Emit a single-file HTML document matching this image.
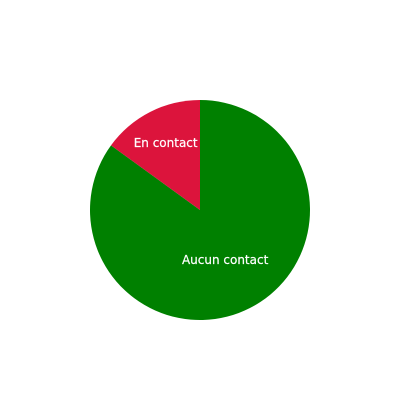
<!DOCTYPE html>
<html lang="fr">
<head>
<meta charset="utf-8">
<title>Pie chart</title>
<style>
html,body{margin:0;padding:0;background:#fff;width:400px;height:400px;overflow:hidden}
svg{display:block}
text{font-family:"DejaVu Sans",Verdana,sans-serif;font-size:12px;fill:#fff;stroke:#fff;stroke-width:0.2px}
</style>
</head>
<body>
<svg id="chart" width="400" height="400" viewBox="0 0 400 400" xmlns="http://www.w3.org/2000/svg"></svg>
<script>
const categories = ['Aucun contact', 'En contact'];
const values = [85, 15];
const sliceColors = ['#008000', '#dc143c'];

const NS = 'http://www.w3.org/2000/svg';
const svg = document.getElementById('chart');
const cx = 200, cy = 210, radius = 110;
const total = values.reduce(function (a, b) { return a + b; }, 0);

function angleOf(value) {
  return value / total * Math.PI * 2;
}
function pointAt(angle, r) {
  return [cx + Math.sin(angle) * r, cy - Math.cos(angle) * r];
}
function labelRadius(fraction) {
  return fraction > 0.5 ? 56 : 75;
}

let start = 0;
const labels = [];
values.forEach(function (value, i) {
  const sweep = angleOf(value);
  const end = start + sweep;
  const p0 = pointAt(start, radius);
  const p1 = pointAt(end, radius);
  const large = sweep > Math.PI ? 1 : 0;
  const slice = document.createElementNS(NS, 'path');
  slice.setAttribute('d', 'M' + cx + ' ' + cy + 'L' + p0[0] + ' ' + p0[1] +
    'A' + radius + ' ' + radius + ' 0 ' + large + ' 1 ' + p1[0] + ' ' + p1[1] + 'Z');
  slice.setAttribute('fill', sliceColors[i]);
  
  
  svg.appendChild(slice);
  const mid = pointAt(start + sweep / 2, labelRadius(value / total));
  labels.push({ text: categories[i], x: mid[0], y: mid[1] });
  start = end;
});

labels.forEach(function (item) {
  const label = document.createElementNS(NS, 'text');
  label.setAttribute('x', item.x - 0.3);
  label.setAttribute('y', item.y + 4);
  label.setAttribute('text-anchor', 'middle');
  label.textContent = item.text;
  
  
  svg.appendChild(label);
});
</script>
</body>
</html>
